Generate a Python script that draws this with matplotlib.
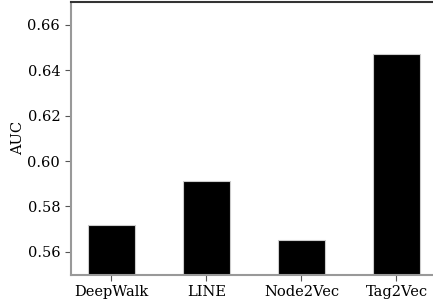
import matplotlib
matplotlib.use("Agg")
import matplotlib.pyplot as plt

methods = ["DeepWalk", "LINE", "Node2Vec", "Tag2Vec"]
auc = [0.572, 0.591, 0.565, 0.647]
yticks = [0.56, 0.58, 0.60, 0.62, 0.64, 0.66]

plt.rcParams['font.family'] = 'DejaVu Serif'

fig = plt.figure(figsize=(4.33, 3.03), dpi=100)
ax = fig.add_axes([0.163, 0.094, 0.847, 0.899])

ax.bar(range(len(methods)), auc, width=0.5, color='black', edgecolor='#cccccc', linewidth=0.8)

ax.set_xlim(-0.43, 3.43)
ax.set_ylim(0.55, 0.67)
ax.set_yticks(yticks)
ax.set_yticklabels([f"{v:.2f}" for v in yticks])
ax.set_xticks(range(len(methods)))
ax.set_xticklabels(methods)
ax.set_ylabel("AUC", fontsize=10.5, labelpad=2)

ax.tick_params(axis='x', labelsize=10.5, color='#555555', length=4)
ax.tick_params(axis='y', labelsize=10.5, color='#555555', length=4)
ax.spines['left'].set_color('#999999')
ax.spines['bottom'].set_color('#999999')
ax.spines['left'].set_linewidth(1.5)
ax.spines['bottom'].set_linewidth(1.5)
ax.spines['top'].set_color('#333333')
ax.spines['top'].set_linewidth(1.5)
ax.spines['right'].set_visible(False)

fig.savefig("out.png", dpi=100)
